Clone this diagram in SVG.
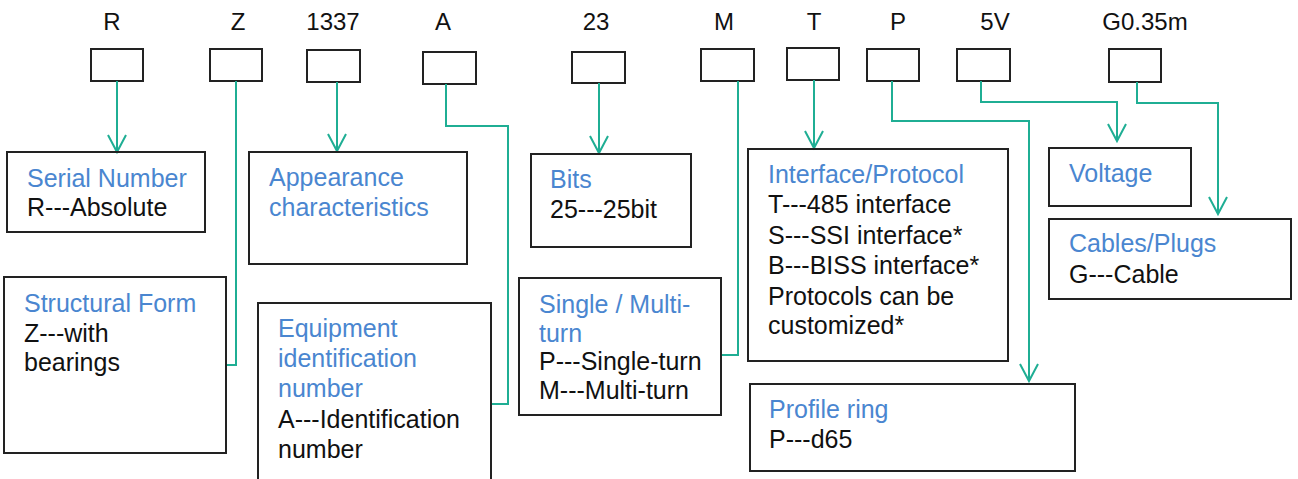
<svg xmlns="http://www.w3.org/2000/svg" width="1298" height="479" viewBox="0 0 1298 479">
<style>
.bg{fill:#ffffff}
.box{fill:none;stroke:#222;stroke-width:2}
.code{font-family:"Liberation Sans",Arial,sans-serif;font-size:24px;fill:#111;text-anchor:middle}
.t{font-family:"Liberation Sans",Arial,sans-serif;font-size:25px;fill:#4a86d0}
.b{font-family:"Liberation Sans",Arial,sans-serif;font-size:25px;fill:#111}
.c{fill:none;stroke:#1fae94;stroke-width:2}
</style>
<defs>
<marker id="arr" markerUnits="userSpaceOnUse" markerWidth="22" markerHeight="22" viewBox="-19 -11 22 22" refX="0" refY="0" orient="auto">
<path d="M-17,-9 L0,0 L-17,9" fill="none" stroke="#1fae94" stroke-width="2"/>
</marker>
</defs>
<rect class="bg" x="0" y="0" width="1298" height="479"/>

<g id="codes">
<g id="code-R"><text class="code" x="112" y="30">R</text><rect class="box" x="91" y="49" width="52" height="32"/></g>
<g id="code-Z"><text class="code" x="238" y="30">Z</text><rect class="box" x="210" y="49" width="52" height="32"/></g>
<g id="code-1337"><text class="code" x="333" y="30">1337</text><rect class="box" x="307" y="50" width="53" height="32"/></g>
<g id="code-A"><text class="code" x="443" y="30">A</text><rect class="box" x="423" y="52" width="53" height="32"/></g>
<g id="code-23"><text class="code" x="596" y="30">23</text><rect class="box" x="572" y="52" width="53" height="31"/></g>
<g id="code-M"><text class="code" x="724" y="30">M</text><rect class="box" x="701" y="49" width="53" height="32"/></g>
<g id="code-T"><text class="code" x="814" y="30">T</text><rect class="box" x="787" y="48" width="52" height="32"/></g>
<g id="code-P"><text class="code" x="898" y="30">P</text><rect class="box" x="867" y="49" width="52" height="32"/></g>
<g id="code-5V"><text class="code" x="995" y="30">5V</text><rect class="box" x="957" y="49" width="53" height="32"/></g>
<g id="code-G"><text class="code" x="1145" y="30">G0.35m</text><rect class="box" x="1109" y="49" width="52" height="33"/></g>
</g>

<g id="connectors">
<path class="c" d="M117,81 V152" marker-end="url(#arr)"/>
<path class="c" d="M236,81 V365 H226"/>
<path class="c" d="M337,82 V151" marker-end="url(#arr)"/>
<path class="c" d="M446,84 V126 H508 V404 H491"/>
<path class="c" d="M599,83 V153" marker-end="url(#arr)"/>
<path class="c" d="M738,81 V355 H721"/>
<path class="c" d="M814,80 V148" marker-end="url(#arr)"/>
<path class="c" d="M892,81 V121 H1029 V381" marker-end="url(#arr)"/>
<path class="c" d="M981,81 V102 H1117 V141" marker-end="url(#arr)"/>
<path class="c" d="M1137,82 V103 H1218 V214" marker-end="url(#arr)"/>
</g>

<g id="serial">
<rect class="box" x="7" y="152" width="198" height="80"/>
<text class="t" x="27" y="187">Serial Number</text>
<text class="b" x="27" y="216">R---Absolute</text>
</g>

<g id="appearance">
<rect class="box" x="249" y="152" width="218" height="112"/>
<text class="t" x="269" y="186">Appearance</text>
<text class="t" x="269" y="216">characteristics</text>
</g>

<g id="structural">
<rect class="box" x="4" y="277" width="222" height="176"/>
<text class="t" x="24" y="312">Structural Form</text>
<text class="b" x="24" y="342">Z---with</text>
<text class="b" x="24" y="371">bearings</text>
</g>

<g id="equipment">
<rect class="box" x="258" y="303" width="233" height="190"/>
<text class="t" x="278" y="337">Equipment</text>
<text class="t" x="278" y="367">identification</text>
<text class="t" x="278" y="397">number</text>
<text class="b" x="278" y="428">A---Identification</text>
<text class="b" x="278" y="458">number</text>
</g>

<g id="bits">
<rect class="box" x="531" y="154" width="160" height="93"/>
<text class="t" x="550" y="188">Bits</text>
<text class="b" x="550" y="218">25---25bit</text>
</g>

<g id="turn">
<rect class="box" x="519" y="278" width="202" height="137"/>
<text class="t" x="539" y="313">Single / Multi-</text>
<text class="t" x="539" y="342">turn</text>
<text class="b" x="539" y="370">P---Single-turn</text>
<text class="b" x="539" y="399">M---Multi-turn</text>
</g>

<g id="interface">
<rect class="box" x="748" y="149" width="260" height="212"/>
<text class="t" x="768" y="183">Interface/Protocol</text>
<text class="b" x="768" y="213">T---485 interface</text>
<text class="b" x="768" y="244">S---SSI interface*</text>
<text class="b" x="768" y="274">B---BISS interface*</text>
<text class="b" x="768" y="305">Protocols can be</text>
<text class="b" x="768" y="334">customized*</text>
</g>

<g id="profile">
<rect class="box" x="750" y="384" width="325" height="87"/>
<text class="t" x="769" y="418">Profile ring</text>
<text class="b" x="769" y="448">P---d65</text>
</g>

<g id="voltage">
<rect class="box" x="1049" y="148" width="142" height="58"/>
<text class="t" x="1069" y="182">Voltage</text>
</g>

<g id="cables">
<rect class="box" x="1049" y="219" width="242" height="80"/>
<text class="t" x="1069" y="252">Cables/Plugs</text>
<text class="b" x="1069" y="283">G---Cable</text>
</g>
</svg>
